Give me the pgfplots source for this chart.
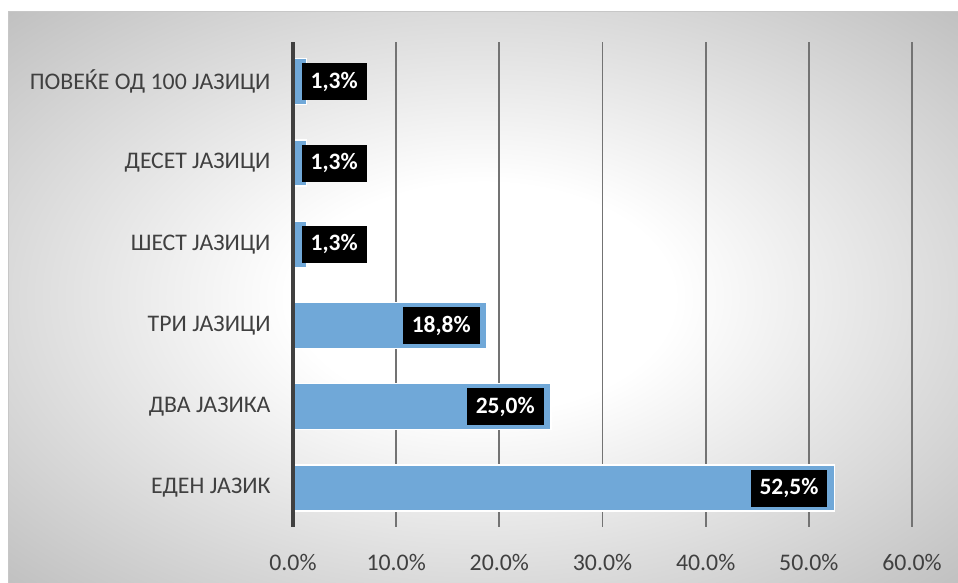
\documentclass[border=0pt]{standalone}
\usepackage{pgfplots}
\pgfplotsset{compat=1.18}
\usepackage{fontspec}
\setmainfont{Carlito}
\pgfdeclareradialshading{bgshade}{\pgfpoint{0bp}{0bp}}{color(0bp)=(white); color(10bp)=(white); color(36bp)=(black!25); color(50bp)=(black!30)}
\definecolor{barblue}{RGB}{112,168,216}
\definecolor{axtext}{RGB}{64,64,64}
\begin{document}
\begin{tikzpicture}
\path[use as bounding box, fill=white] (-293pt,-56pt) rectangle (665pt,527pt);
\shade[shading=bgshade] (-284pt,-56pt) rectangle (665pt,515pt);
\draw[black!22, line width=1pt] (-284pt,-56pt) -- (-284pt,515pt) -- (665pt,515pt);
\begin{axis}[
  scale only axis, width=619pt, height=485pt,
  xmin=0, xmax=60, ymin=-0.48, ymax=5.49,
  axis line style={draw=none},
  xtick={0,10,...,60},
  xticklabels={0.0\%,10.0\%,20.0\%,30.0\%,40.0\%,50.0\%,60.0\%},
  ytick={0,...,5},
  yticklabels={ЕДЕН ЈАЗИК, ДВА ЈАЗИКА, ТРИ ЈАЗИЦИ, ШЕСТ ЈАЗИЦИ, ДЕСЕТ ЈАЗИЦИ, ПОВЕЌЕ ОД 100 ЈАЗИЦИ},
  major tick length=0pt,
  xmajorgrids, major grid style={black!55, line width=1.7pt},
  tick label style={font=\fontsize{23.8}{28}\selectfont, text=axtext},
  xticklabel style={yshift=-24pt},
  yticklabel style={xshift=-19pt},
  clip=false,
]
\addplot[xbar, bar shift=0pt, bar width=46pt, fill=barblue, draw=white, line width=1.2pt] table {
x y
52.5 0
25.0 1
18.8 2
1.3 3
1.3 4
1.3 5
};
\addplot[xbar, bar shift=0pt, bar width=0pt, draw=none, fill=none,
  point meta=explicit symbolic,
  nodes near coords={\pgfplotspointmeta\%},
  every node near coord/.append style={anchor=east, xshift=-7pt, fill=black, text=white,
    font=\fontsize{23.5}{27}\selectfont\bfseries, inner xsep=9pt, inner ysep=0pt, minimum height=37pt}]
  table[meta=label] {
x y label
52.5 0 52,5
25.0 1 25,0
18.8 2 18,8
};
\addplot[xbar, bar shift=0pt, bar width=0pt, draw=none, fill=none,
  point meta=explicit symbolic,
  nodes near coords={\pgfplotspointmeta\%},
  every node near coord/.append style={anchor=west, xshift=-5pt, fill=black, text=white,
    font=\fontsize{23.5}{27}\selectfont\bfseries, inner xsep=9pt, inner ysep=0pt, minimum height=37pt}]
  table[meta=label] {
x y label
1.3 3 1,3
1.3 4 1,3
1.3 5 1,3
};
\draw[black!75, line width=3.5pt] (axis cs:0,-0.48) -- (axis cs:0,5.49);
\end{axis}
\end{tikzpicture}
\end{document}
